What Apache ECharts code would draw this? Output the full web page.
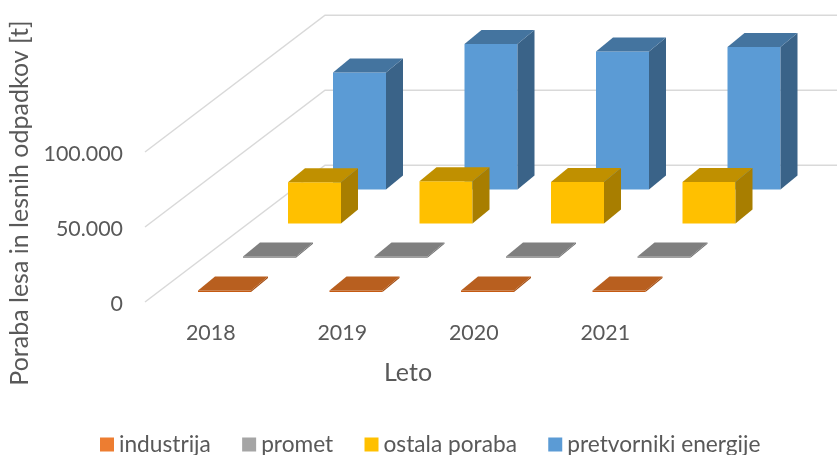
<!DOCTYPE html>
<html>
<head>
<meta charset="utf-8">
<style>html,body{margin:0;background:#fff}#chart{width:837px;height:455px}</style>
<script src="https://cdn.jsdelivr.net/npm/echarts@6/dist/echarts.min.js"></script>
</head>
<body>
<div id="chart"></div>
<script>
var categories = ['2018', '2019', '2020', '2021']
var industrija = [1000, 1000, 1000, 1000]
var promet = [800, 800, 800, 800]
var ostalaPoraba = [27500, 28200, 27800, 27800]
var pretvorniki = [78000, 97000, 92000, 95000]
var yTicks = [0, 50000, 100000]

var font = 'Lato'
var textColor = '#595959'

// 3d look: one depth row is 45px right, 34px up
var rowDx = 45
var rowDy = -34.2
var barDepthDx = 17
var barDepthDy = -14
var barWidth = 53
var barLeft = -12.75
var barInsetDy = -10

function barSeries(name, values, row, legendColor, front, top, side) {
  return {
    name: name,
    type: 'custom',
    coordinateSystem: 'cartesian2d',
    clip: false,
    z: 10 - row,
    itemStyle: { color: legendColor },
    encode: { x: 0, y: 1 },
    data: values.map(function (v, i) { return [i, v] }),
    renderItem: function (params, api) {
      var base = api.coord([api.value(0), 0])
      var head = api.coord([api.value(0), api.value(1)])
      var x0 = base[0] + barLeft + rowDx * row
      var x1 = x0 + barWidth
      var dy = barInsetDy + rowDy * row
      var yb = base[1] + dy
      var yt = head[1] + dy
      return {
        type: 'group',
        children: [
          { type: 'polygon', shape: { points: [[x0, yb], [x1, yb], [x1, yt], [x0, yt]] }, style: { fill: front } },
          { type: 'polygon', shape: { points: [[x1, yb], [x1 + barDepthDx, yb + barDepthDy], [x1 + barDepthDx, yt + barDepthDy], [x1, yt]] }, style: { fill: side } },
          { type: 'polygon', shape: { points: [[x0, yt], [x1, yt], [x1 + barDepthDx, yt + barDepthDy], [x0 + barDepthDx, yt + barDepthDy]] }, style: { fill: top } }
        ]
      }
    }
  }
}

// left wall + back wall gridlines
var gridSeries = {
  name: 'mreza',
  type: 'custom',
  coordinateSystem: 'cartesian2d',
  clip: false,
  silent: true,
  z: 1,
  data: yTicks.map(function (v) { return [0, v] }),
  encode: { y: 1 },
  renderItem: function (params, api) {
    var p = api.coord([0, api.value(1)])
    var x0 = p[0] - 65.75
    var y0 = p[1]
    return {
      type: 'polyline',
      shape: { points: [[x0, y0], [x0 + rowDx * 4, y0 + rowDy * 4], [837, y0 + rowDy * 4]] },
      style: { fill: null, stroke: '#d9d9d9', lineWidth: 1.5 }
    }
  }
}

var chart = echarts.init(document.getElementById('chart'))
chart.setOption({
  animation: false,
  backgroundColor: '#fff',
  textStyle: { fontFamily: font },
  grid: { left: 145, top: 152, width: 526, height: 150, outerBoundsMode: 'none' },
  xAxis: {
    type: 'category',
    data: categories,
    name: 'Leto',
    nameLocation: 'middle',
    nameGap: 58,
    nameTextStyle: { color: textColor, fontSize: 25, fontFamily: font },
    axisLine: { show: false },
    axisTick: { show: false },
    axisLabel: { color: textColor, fontSize: 21.4, margin: 21, fontFamily: font }
  },
  yAxis: {
    type: 'value',
    min: 0,
    max: 100000,
    interval: 50000,
    name: 'Poraba lesa in lesnih odpadkov [t]',
    nameLocation: 'middle',
    nameGap: 111,
    nameTextStyle: { color: textColor, fontSize: 25, fontFamily: font, padding: [0, 0, 0, 48] },
    axisLine: { show: false },
    axisTick: { show: false },
    splitLine: { show: false },
    axisLabel: {
      color: textColor,
      fontSize: 21.4,
      margin: 22,
      verticalAlign: 'top',
      lineHeight: 4,
      fontFamily: font,
      formatter: function (v) { return v === 0 ? '0' : String(v).replace(/(\d{3})$/, '.$1') }
    }
  },
  legend: {
    left: 100,
    top: 433,
    padding: 0,
    itemWidth: 14,
    itemHeight: 14,
    itemGap: 31.3,
    icon: 'rect',
    data: ['industrija', 'promet', 'ostala poraba', 'pretvorniki energije'],
    textStyle: { color: textColor, fontSize: 22.7, fontFamily: font }
  },
  series: [
    gridSeries,
    barSeries('industrija', industrija, 0, '#ed7d31', '#c55a11', '#b85f1f', '#a34c10'),
    barSeries('promet', promet, 1, '#a5a5a5', '#7f7f7f', '#7f7f7f', '#6f6f6f'),
    barSeries('ostala poraba', ostalaPoraba, 2, '#ffc000', '#ffc000', '#c09000', '#a87e00'),
    barSeries('pretvorniki energije', pretvorniki, 3, '#5b9bd5', '#5b9bd5', '#44749f', '#3a6388')
  ]
})
</script>
</body>
</html>
